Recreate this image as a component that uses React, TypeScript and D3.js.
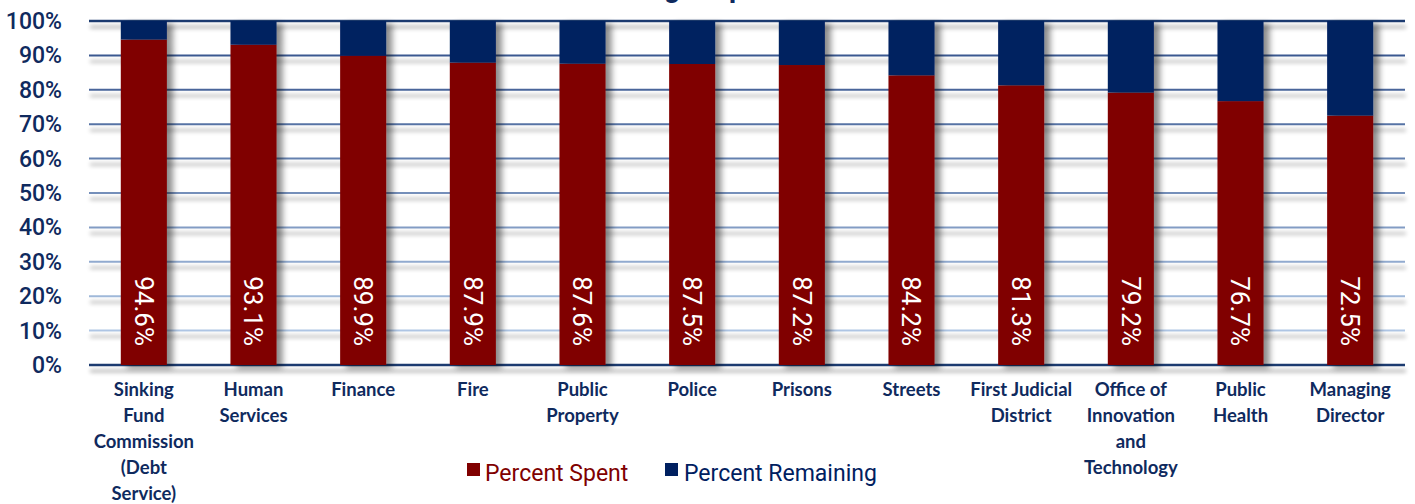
import React from "react";
import * as d3 from "d3";

const categories: string[][] = [
  ["Sinking", "Fund", "Commission", "(Debt", "Service)"],
  ["Human", "Services"],
  ["Finance"],
  ["Fire"],
  ["Public", "Property"],
  ["Police"],
  ["Prisons"],
  ["Streets"],
  ["First Judicial", "District"],
  ["Office of", "Innovation", "and", "Technology"],
  ["Public", "Health"],
  ["Managing", "Director"],
];
const percentSpent: number[] = [94.6, 93.1, 89.9, 87.9, 87.6, 87.5, 87.2, 84.2, 81.3, 79.2, 76.7, 72.5];
const yTicks: number[] = [0, 10, 20, 30, 40, 50, 60, 70, 80, 90, 100];
const seriesNames: string[] = ["Percent Spent", "Percent Remaining"];
const titleText = "Budget Spent";

const W = 1415;
const H = 504;
const RED = "#800000";
const NAVY = "#002060";
const TEXT_NAVY = "#0f2a5e";

export default function App() {
  const left = 89, right = 1405, top = 21, bottom = 365;
  const keys = categories.map((_, i) => String(i));
  const x = d3.scaleBand<string>().domain(keys).range([left, right]).paddingInner(0.58).paddingOuter(0.29);
  const y = d3.scaleLinear().domain([0, 100]).range([bottom, top]);
  const gridColor = d3.interpolateRgb("#bcd3ee", "#2b4a85");

  const data = percentSpent.map((v, i) => ({ key: keys[i], spent: v, remaining: +(100 - v).toFixed(1) }));
  const stack = d3.stack<any>().keys(["spent", "remaining"])(data);
  const colors = [RED, NAVY];

  return (
    <svg width={W} height={H} style={{ position: "absolute", left: 0, top: 0, background: "#fff" }}>
      <defs>
        <filter id="gshadow" x="-5%" y="-200%" width="110%" height="600%">
          <feGaussianBlur in="SourceAlpha" stdDeviation="2.2" />
          <feOffset dx="1" dy="6" result="o" />
          <feComponentTransfer><feFuncA type="linear" slope="0.35" /></feComponentTransfer>
          <feMerge><feMergeNode /><feMergeNode in="SourceGraphic" /></feMerge>
        </filter>
        <filter id="bshadow" x="-30%" y="-5%" width="160%" height="110%">
          <feGaussianBlur in="SourceAlpha" stdDeviation="3" />
          <feOffset dx="6" dy="3" result="o" />
          <feComponentTransfer><feFuncA type="linear" slope="0.45" /></feComponentTransfer>
          <feMerge><feMergeNode /><feMergeNode in="SourceGraphic" /></feMerge>
        </filter>
      </defs>

      <text x={700} y={-3} textAnchor="middle" fontFamily="Roboto" fontWeight={700} fontSize={28} fill={TEXT_NAVY}>
        {titleText}
      </text>

      {/* gridlines */}
      <g filter="url(#gshadow)">
        {yTicks.map((t) => (
          <line key={t} x1={left} x2={right} y1={y(t)} y2={y(t)}
            stroke={t === 0 || t === 100 ? "#1f3a70" : gridColor(t / 100)}
            strokeWidth={t === 0 || t === 100 ? 2.5 : 2} />
        ))}
      </g>

      {/* y tick labels */}
      {yTicks.map((t) => (
        <text key={t} x={62} y={y(t) + 8} textAnchor="end" fontFamily="Roboto" fontWeight={500} fontSize={23} fill={TEXT_NAVY}>
          {t}%
        </text>
      ))}

      {/* bars */}
      <g filter="url(#bshadow)">
        {stack.map((s, si) => (
          <g key={si} fill={colors[si]}>
            {s.map((d, i) => (
              <rect key={i} x={x(keys[i])} y={y(d[1])} width={x.bandwidth()} height={y(d[0]) - y(d[1])} />
            ))}
          </g>
        ))}
      </g>

      {/* value labels */}
      {data.map((d) => {
        const cx = (x(d.key) as number) + x.bandwidth() / 2;
        const cy = y(0) - 19;
        return (
          <text key={d.key} transform={`translate(${cx},${cy}) rotate(90)`} textAnchor="end" dy="0.35em"
            fontFamily="Roboto" fontSize={26} fill="#fff">
            {d.spent.toFixed(1)}%
          </text>
        );
      })}

      {/* category labels */}
      {categories.map((lines, i) => {
        const cx = (x(keys[i]) as number) + x.bandwidth() / 2;
        return (
          <text key={i} textAnchor="middle" fontFamily="Lato" fontWeight={700} fontSize={18.5} fill={TEXT_NAVY}>
            {lines.map((ln, j) => (
              <tspan key={j} x={cx} y={396 + j * 26}>{ln}</tspan>
            ))}
          </text>
        );
      })}

      {/* legend */}
      <g>
        <rect x={467} y={463} width={13} height={13} fill={RED} />
        <text x={485} y={481} fontFamily="Roboto" fontSize={23} fill={RED}>{seriesNames[0]}</text>
        <rect x={665} y={463} width={13} height={13} fill={NAVY} />
        <text x={684} y={481} fontFamily="Roboto" fontSize={23} fill={NAVY}>{seriesNames[1]}</text>
      </g>
    </svg>
  );
}
